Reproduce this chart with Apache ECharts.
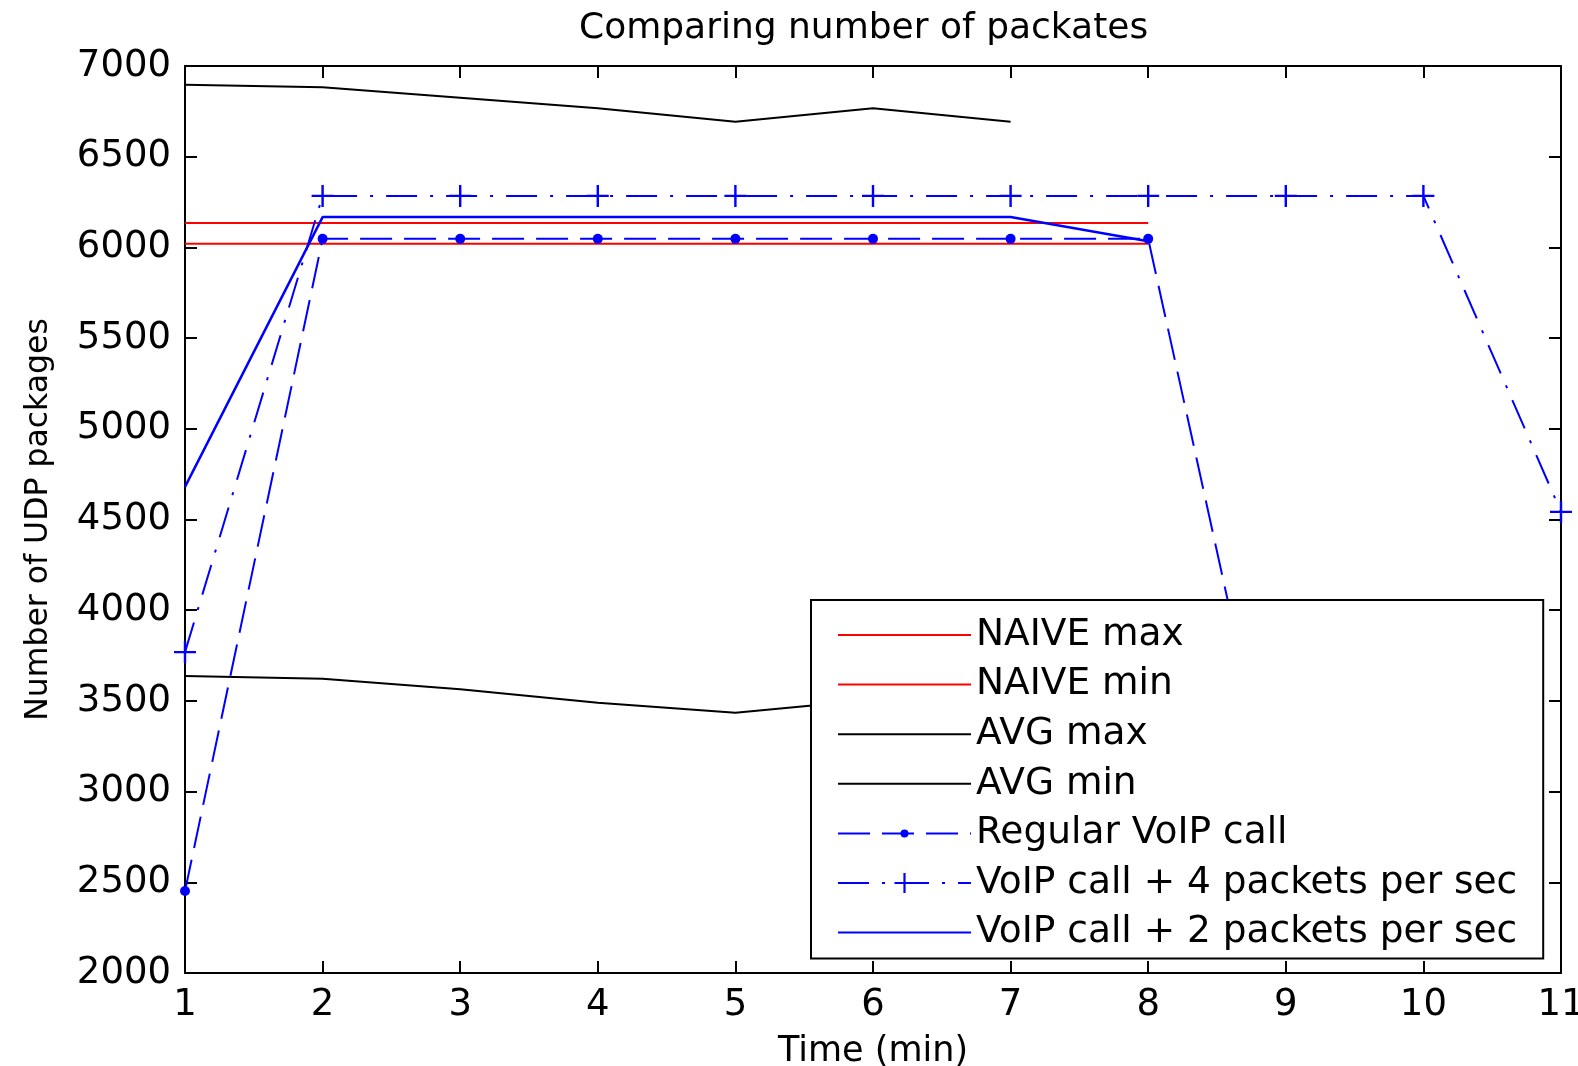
<!DOCTYPE html>
<html>
<head>
<meta charset="utf-8">
<script src="https://cdn.jsdelivr.net/npm/echarts@6/dist/echarts.min.js"></script>
<style>
html,body{margin:0;padding:0;background:#fff;}
#chart{width:1578px;height:1066px;}
</style>
</head>
<body>
<div id="chart"></div>
<script>
// ---- data ----
const titleText = 'Comparing number of packates';
const xName = 'Time (min)';
const yName = 'Number of UDP packages';
const yTicks = [2000, 2500, 3000, 3500, 4000, 4500, 5000, 5500, 6000, 6500, 7000];
const xTicks = [1, 2, 3, 4, 5, 6, 7, 8, 9, 10, 11];

const naiveMaxX = [1, 2, 3, 4, 5, 6, 7, 8];
const naiveMaxY = [6135, 6135, 6135, 6135, 6135, 6135, 6135, 6135];
const naiveMinX = [1, 2, 3, 4, 5, 6, 7, 8];
const naiveMinY = [6020, 6020, 6020, 6020, 6020, 6020, 6020, 6020];
const avgMaxX = [1, 2, 3, 4, 5, 6, 7];
const avgMaxY = [6897, 6883, 6825, 6767, 6693, 6767, 6693];
const avgMinX = [1, 2, 3, 4, 5, 6, 7];
const avgMinY = [3637, 3622, 3564, 3490, 3435, 3507, 3433];
const regularX = [1, 2, 3, 4, 5, 6, 7, 8, 9];
const regularY = [2452, 6047, 6047, 6047, 6047, 6047, 6047, 6047, 2600];
const voip4X = [1, 2, 3, 4, 5, 6, 7, 8, 9, 10, 11];
const voip4Y = [3769, 6284, 6284, 6284, 6284, 6284, 6284, 6284, 6284, 6284, 4542];
const voip2X = [1, 2, 3, 4, 5, 6, 7, 8];
const voip2Y = [4680, 6167, 6167, 6167, 6167, 6167, 6167, 6034];

const seriesNames = ['NAIVE max', 'NAIVE min', 'AVG max', 'AVG min',
  'Regular VoIP call', 'VoIP call + 4 packets per sec', 'VoIP call + 2 packets per sec'];

// ---- build ----
const pairs = (xs, ys) => xs.map((x, i) => [x, ys[i]]);
const FONT = 'DejaVu Sans';
const DOT = 'path://M-10,-10M10,10M-4,0A4,4,0,1,1,4,0A4,4,0,1,1,-4,0Z';
const PLUS = 'path://M-1.1,-10L1.1,-10L1.1,-1.1L10,-1.1L10,1.1L1.1,1.1L1.1,10L-1.1,10L-1.1,1.1L-10,1.1L-10,-1.1L-1.1,-1.1Z';

function lineSeries(name, xs, ys, color, width, type, symbol, symbolSize) {
  return {
    name: name, type: 'line', xAxisIndex: 0, yAxisIndex: 0,
    data: pairs(xs, ys),
    symbol: symbol || 'none', symbolSize: symbolSize || 0,
    showSymbol: !!symbol,
    lineStyle: { color: color, width: width, type: type || 'solid' },
    itemStyle: { color: color },
    emphasis: { disabled: true },
    z: 2
  };
}

const tickLabelStyle = { fontFamily: FONT, fontSize: 37, color: '#000' };
const axisLineStyle = { show: true, lineStyle: { color: '#000', width: 2 } };
const tickStyle = { show: true, inside: true, length: 12, lineStyle: { color: '#000', width: 2 } };

const chart = echarts.init(document.getElementById('chart'), null, { renderer: 'canvas' });
chart.setOption({
  animation: false,
  backgroundColor: '#fff',
  title: {
    text: titleText, left: 579, top: 11, padding: 0,
    textStyle: { fontFamily: FONT, fontSize: 36, fontWeight: 'normal', color: '#000' }
  },
  grid: { left: 185, top: 66, right: 17, bottom: 93, containLabel: false, outerBoundsMode: 'none' },
  xAxis: [{
    type: 'value', min: xTicks[0], max: xTicks[xTicks.length - 1], interval: 1,
    position: 'bottom',
    name: xName, nameLocation: 'middle', nameGap: 61,
    nameTextStyle: { fontFamily: FONT, fontSize: 35, color: '#000' },
    axisLine: axisLineStyle, axisTick: tickStyle,
    axisLabel: Object.assign({ margin: 14, formatter: v => String(v) }, tickLabelStyle),
    splitLine: { show: false }
  }, {
    type: 'value', min: xTicks[0], max: xTicks[xTicks.length - 1], interval: 1,
    position: 'top',
    axisLine: axisLineStyle, axisTick: tickStyle,
    axisLabel: { show: false }, splitLine: { show: false }
  }],
  yAxis: [{
    type: 'value', min: yTicks[0], max: yTicks[yTicks.length - 1], interval: 500,
    position: 'left',
    name: yName, nameLocation: 'middle', nameGap: 130, nameRotate: 90,
    nameTextStyle: { fontFamily: FONT, fontSize: 31.5, color: '#000' },
    axisLine: axisLineStyle, axisTick: tickStyle,
    axisLabel: Object.assign({ margin: 14, padding: [6, 0, 0, 0], formatter: v => String(v) }, tickLabelStyle),
    splitLine: { show: false }
  }, {
    type: 'value', min: yTicks[0], max: yTicks[yTicks.length - 1], interval: 500,
    position: 'right',
    axisLine: axisLineStyle, axisTick: tickStyle,
    axisLabel: { show: false }, splitLine: { show: false }
  }],
  legend: {
    orient: 'vertical', left: 811, top: 600,
    padding: [16, 26, 7, 26],
    itemWidth: 133, itemHeight: 25, itemGap: 11.6,
    backgroundColor: '#fff', borderColor: '#000', borderWidth: 2, borderRadius: 0,
    selectedMode: false,
    textStyle: { fontFamily: FONT, fontSize: 37.5, color: '#000' },
    data: [
      { name: seriesNames[0], itemStyle: { opacity: 0 } },
      { name: seriesNames[1], itemStyle: { opacity: 0 } },
      { name: seriesNames[2], itemStyle: { opacity: 0 } },
      { name: seriesNames[3], itemStyle: { opacity: 0 } },
      { name: seriesNames[4] },
      { name: seriesNames[5] },
      { name: seriesNames[6], itemStyle: { opacity: 0 } }
    ],
    z: 10
  },
  series: [
    lineSeries(seriesNames[0], naiveMaxX, naiveMaxY, '#ff0000', 2),
    lineSeries(seriesNames[1], naiveMinX, naiveMinY, '#ff0000', 2),
    lineSeries(seriesNames[2], avgMaxX, avgMaxY, '#000000', 2),
    lineSeries(seriesNames[3], avgMinX, avgMinY, '#000000', 2),
    lineSeries(seriesNames[4], regularX, regularY, '#0000ff', 2, [32, 12], DOT, 25),
    lineSeries(seriesNames[5], voip4X, voip4Y, '#0000ff', 2, [31, 13, 3, 13], PLUS, 22),
    lineSeries(seriesNames[6], voip2X, voip2Y, '#0000ff', 2.5)
  ]
});
</script>
</body>
</html>
